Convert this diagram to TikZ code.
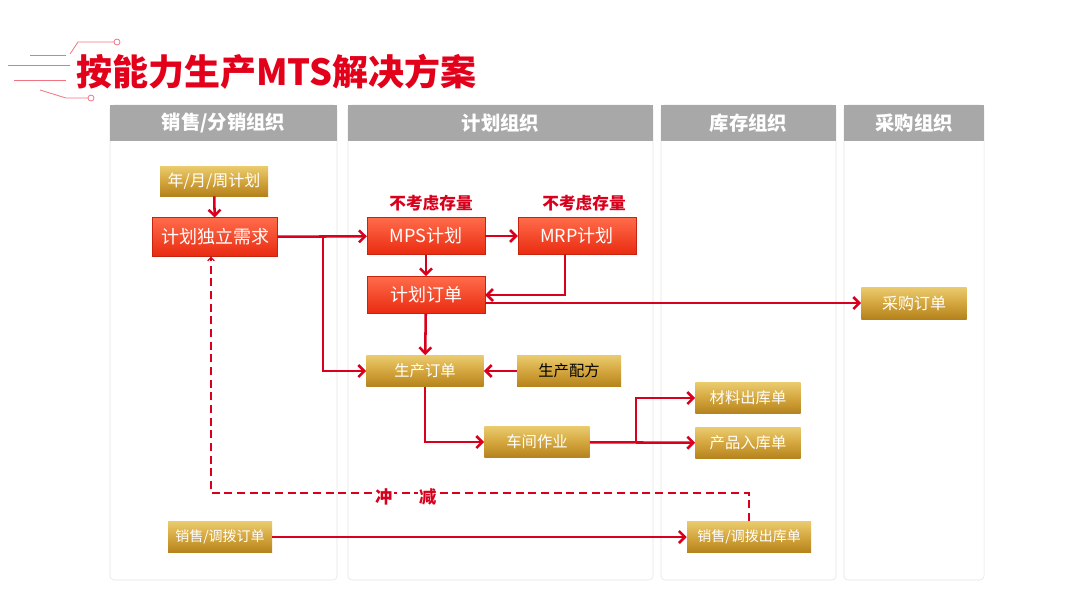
\documentclass[tikz,border=0pt]{standalone}
\usepackage{fontspec}
\setmainfont{Noto Sans CJK SC}
\usetikzlibrary{positioning, arrows.meta}

\definecolor{linkred}{HTML}{D8001C}
\definecolor{titlered}{HTML}{E3001B}
\definecolor{headgray}{HTML}{A8A8A8}
\definecolor{redtop}{HTML}{FF6C4A}
\definecolor{redbot}{HTML}{E92A10}
\definecolor{goldtop}{HTML}{EACB6E}
\definecolor{goldmid}{HTML}{D4A63E}
\definecolor{goldbot}{HTML}{B4821C}

\begin{document}
\begin{tikzpicture}[
        x=0.75pt, y=-0.75pt,
        lanebody/.style={
            draw=gray!22,
            fill=white,
            rounded corners=3pt
        },
        lanehead/.style={
            fill=headgray,
            text=white,
            inner sep=0pt,
            font=\bfseries\fontsize{14.5}{16}\selectfont
        },
        redbox/.style={
            top color=redtop,
            bottom color=redbot,
            draw=redbot!85!black,
            line width=0.3pt,
            text=white,
            inner sep=0pt,
            minimum width=88.5pt,
            minimum height=28pt,
            font=\fontsize{13.5}{15}\selectfont
        },
        goldbox/.style={
            top color=goldtop,
            bottom color=goldbot,
            middle color=goldmid,
            text=white,
            inner sep=0pt,
            minimum width=79pt,
            minimum height=23.5pt,
            font=\fontsize{11.5}{13}\selectfont
        },
        note/.style={
            text=linkred,
            font=\bfseries\fontsize{12.5}{14}\selectfont
        },
        link/.style={
            -{Straight Barb[length=4.5pt, width=9pt]},
            line width=1.9pt,
            linkred
        },
        offset/.style={
            -{Straight Barb[length=2.5pt, width=5pt]},
            line width=1pt,
            dash pattern=on 6pt off 3.5pt,
            linkred
        },
        deco/.style={
            draw=titlered!55,
            line width=0.6pt
        }
    ]

    \useasboundingbox (0,0) rectangle (1080,608);

    % Title
    \node[anchor=west, text=titlered, inner sep=0pt, font=\bfseries\fontsize{27}{30}\selectfont] (title) at (76,72) {按能力生产MTS解决方案};
    \draw[deco] (70,54) -- (78,42) -- (114,42);
    \draw[deco] (117,42) circle (3);
    \draw[deco] (30,55) -- (66,55);
    \draw[deco] (8,65) -- (70,65);
    \draw[deco] (14,80) -- (66,80);
    \draw[deco] (40,90) -- (66,98) -- (88,98);
    \draw[deco] (91,98) circle (3);

    % Lanes
    \draw[lanebody] (110,105) rectangle (337,580);
    \draw[lanebody] (348,105) rectangle (653,580);
    \draw[lanebody] (661,105) rectangle (836,580);
    \draw[lanebody] (844,105) rectangle (984,580);
    \node[lanehead, minimum width=170.25pt, minimum height=27pt] (salesorg) at (223.5,123) {销售/分销组织};
    \node[lanehead, minimum width=228.75pt, minimum height=27pt] (planorg) at (500.5,123) {计划组织};
    \node[lanehead, minimum width=131.25pt, minimum height=27pt] (stockorg) at (748.5,123) {库存组织};
    \node[lanehead, minimum width=105pt, minimum height=27pt] (buyorg) at (914,123) {采购组织};

    % Sales lane
    \node[goldbox, minimum width=81pt, minimum height=22.5pt, font=\fontsize{12}{14}\selectfont] (period) at (214,181) {年/月/周计划};
    \node[redbox, minimum width=94pt, minimum height=29pt] (indep) at (215,237) {计划独立需求};
    \node[goldbox, minimum width=78pt, font=\fontsize{10.5}{12}\selectfont] (salesord) at (220,537) {销售/调拨订单};

    % Planning lane
    \node[redbox] (mps) at (426,236) {MPS计划};
    \node[redbox] (mrp) at (577,236) {MRP计划};
    \node[note] (mpsnote) at (431,203) {不考虑存量};
    \node[note] (mrpnote) at (584,203) {不考虑存量};
    \node[redbox] (porder) at (426,295) {计划订单};
    \node[goldbox, minimum width=88pt] (prodord) at (425,371) {生产订单};
    \node[goldbox, minimum width=78pt, text=black] (recipe) at (569,371) {生产配方};
    \node[goldbox] (shop) at (537,442) {车间作业};

    % Stock lane
    \node[goldbox] (matout) at (748,398) {材料出库单};
    \node[goldbox] (prodin) at (748,443) {产品入库单};
    \node[goldbox, minimum width=93pt, font=\fontsize{10.5}{12}\selectfont] (salesout) at (749,537) {销售/调拨出库单};

    % Purchase lane
    \node[goldbox, minimum height=24pt, font=\fontsize{12}{14}\selectfont] (purch) at (914,303) {采购订单};

    % Flow
    \coordinate (split) at (323,237);
    \coordinate (fork) at (636,442);
    \coordinate (offcorner) at (211,493);
    \draw[link] (period) -- (indep);
    \draw[link] (indep) -- (mps);
    \draw[link] (split) |- (prodord);
    \draw[link] (mps) -- (mrp);
    \draw[link] (mps) -- (porder);
    \draw[link] ([xshift=-9pt]mrp.south) |- (porder.east);
    \draw[link] (porder.east |- purch.west) -- (purch.west);
    \draw[link] (porder) -- (prodord);
    \draw[link] (recipe) -- (prodord);
    \draw[link] (prodord) |- (shop);
    \draw[link] (shop) -- (prodin);
    \draw[link] (fork) |- (matout);
    \draw[link] (salesord) -- (salesout);

    % Offset
    \draw[offset] (salesout.north) -- (salesout.north |- offcorner) -| ([xshift=-3pt]indep.south);
    \node[note, fill=white, inner sep=1pt, font=\bfseries\fontsize{13}{15}\selectfont] (chong) at (384,497) {冲};
    \node[note, fill=white, inner sep=1pt, font=\bfseries\fontsize{13}{15}\selectfont] (jian) at (428,497) {减};

\end{tikzpicture}
\end{document}
